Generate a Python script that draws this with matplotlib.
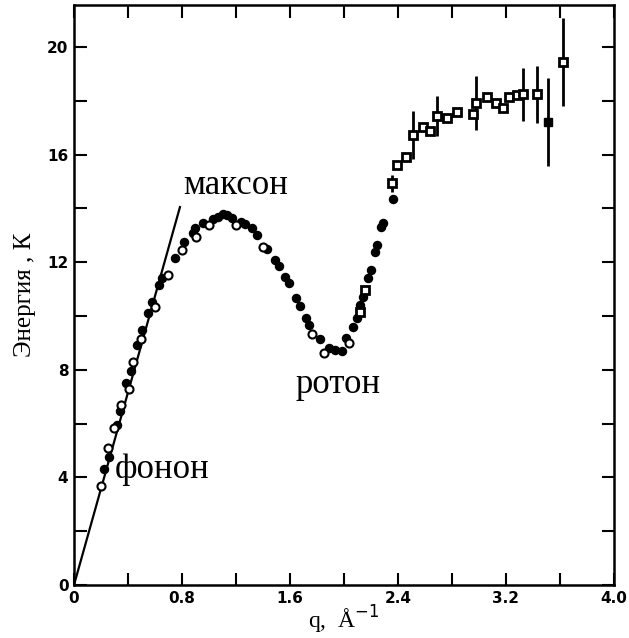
import matplotlib
matplotlib.use('Agg')
import matplotlib.pyplot as plt
from matplotlib.ticker import MultipleLocator

# phonon (linear) dispersion line
phonon_q = [0.0, 0.785]
phonon_E = [0.0, 14.05]

# open circles
open_q = [0.198, 0.254, 0.295, 0.347, 0.408, 0.439, 0.494, 0.600, 0.699, 0.797,
          0.904, 1.000, 1.200, 1.397, 1.765, 1.852, 2.039]
open_E = [3.68, 5.08, 5.83, 6.70, 7.27, 8.29, 9.16, 10.35, 11.52, 12.45,
          12.94, 13.40, 13.40, 12.58, 9.33, 8.62, 8.98]

# filled circles
full_q = [0.222, 0.258, 0.321, 0.338, 0.385, 0.420, 0.464, 0.501, 0.551, 0.575,
          0.630, 0.650, 0.748, 0.812, 0.879, 0.900, 0.958, 1.027, 1.069, 1.106,
          1.136, 1.168, 1.235, 1.267, 1.316, 1.353, 1.432, 1.489, 1.517, 1.563,
          1.595, 1.644, 1.674, 1.719, 1.740, 1.820, 1.891, 1.933, 1.983, 2.015,
          2.069, 2.094, 2.119, 2.139, 2.180, 2.200, 2.230, 2.247, 2.274, 2.291,
          2.360]
full_E = [4.30, 4.75, 5.95, 6.48, 7.50, 7.97, 8.91, 9.48, 10.10, 10.53,
          11.15, 11.40, 12.14, 12.75, 13.10, 13.28, 13.47, 13.60, 13.69, 13.79,
          13.75, 13.63, 13.51, 13.42, 13.26, 13.01, 12.48, 12.10, 11.86, 11.44,
          11.24, 10.66, 10.37, 9.91, 9.65, 9.15, 8.80, 8.74, 8.70, 9.17,
          9.60, 9.91, 10.41, 10.72, 11.40, 11.71, 12.39, 12.64, 13.32, 13.47,
          14.36]

# open squares without error bars
sq_q = [2.119, 2.156, 2.395, 2.459, 2.588, 2.637, 2.760, 2.835, 2.953, 3.057,
        3.126, 3.180, 3.224, 3.279]
sq_E = [10.16, 10.97, 15.61, 15.92, 17.01, 16.88, 17.38, 17.58, 17.53, 18.13,
        17.93, 17.72, 18.13, 18.22]

# open squares with error bars
sqe_q = [2.353, 2.509, 2.691, 2.978, 3.324, 3.427, 3.620]
sqe_E = [14.93, 16.73, 17.43, 17.93, 18.24, 18.24, 19.45]
sqe_err = [0.30, 0.90, 0.75, 1.00, 1.00, 1.05, 1.64]

# filled square with error bar
fsq_q = [3.513]
fsq_E = [17.22]
fsq_err = [1.64]

fig = plt.figure(figsize=(6.29, 6.38), dpi=100)
ax = fig.add_axes([0.1176, 0.083, 0.8585, 0.909])

ax.plot(phonon_q, phonon_E, color='black', lw=1.6, zorder=2)

ax.errorbar(sqe_q, sqe_E, yerr=sqe_err, fmt='none', ecolor='black',
            elinewidth=2, capsize=0, zorder=3)
ax.errorbar(fsq_q, fsq_E, yerr=fsq_err, fmt='none', ecolor='black',
            elinewidth=2, capsize=0, zorder=3)

ax.plot(full_q, full_E, 'o', color='black', ms=5.8, zorder=4)
ax.plot(open_q, open_E, 'o', mfc='white', mec='black', mew=1.5, ms=5.8, zorder=5)
ax.plot(sq_q + sqe_q, sq_E + sqe_E, 's', mfc='white', mec='black', mew=2,
        ms=5.3, zorder=5)
ax.plot(fsq_q, fsq_E, 's', color='black', ms=6, zorder=5)

ax.set_xlim(0, 4.0)
ax.set_ylim(0, 21.56)
ax.xaxis.set_minor_locator(MultipleLocator(0.4))
ax.yaxis.set_major_locator(MultipleLocator(4))
ax.yaxis.set_minor_locator(MultipleLocator(2))
ax.tick_params(which='both', direction='in', top=True, right=True,
               width=1.5, labelsize=11, pad=4, length=9)
ax.set_xticks([0, 0.8, 1.6, 2.4, 3.2, 4.0])
ax.set_xticklabels(['0', '0.8', '1.6', '2.4', '3.2', '4.0'], fontweight='bold')
ax.set_yticks([0, 4, 8, 12, 16, 20])
ax.set_yticklabels(['0', '4', '8', '12', '16', '20'], fontweight='bold')
for s in ax.spines.values():
    s.set_linewidth(1.8)

serif = 'Liberation Serif'
ax.text(0.807, 14.55, 'максон', fontsize=25, family=serif)
ax.text(1.644, 7.14, 'ротон', fontsize=25, family=serif)
ax.text(0.304, 3.98, 'фонон', fontsize=25, family=serif)

ax.set_ylabel('Энергия , К', fontsize=18, family=serif, labelpad=8)
ax.set_xlabel('q,  Å$^{-1}$', fontsize=17, family=serif, labelpad=-1)

fig.savefig('out.png', dpi=100)
